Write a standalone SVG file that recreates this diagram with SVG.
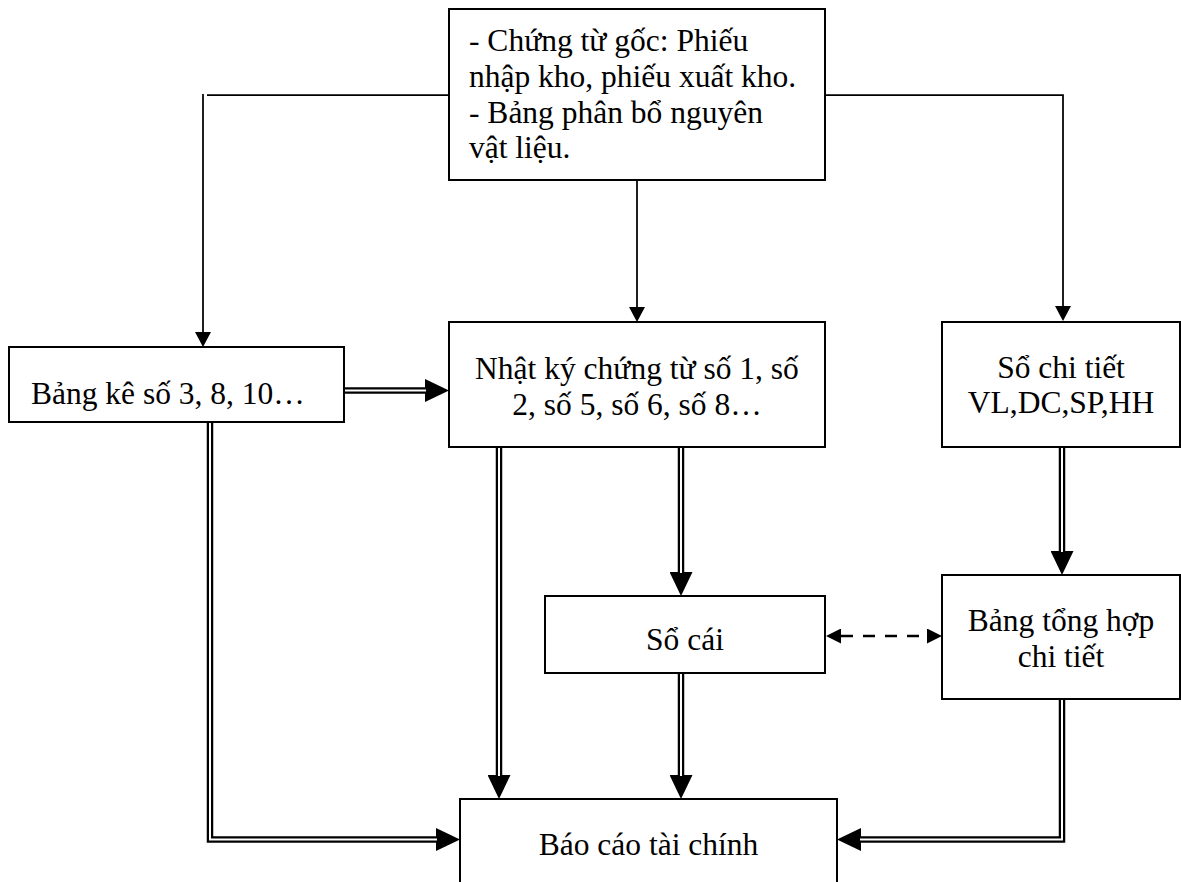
<svg xmlns="http://www.w3.org/2000/svg" width="1181" height="882" viewBox="0 0 1181 882">
  <style>
    .box { fill: #ffffff; stroke: #000000; stroke-width: 2; }
    .txt { font-family: "Liberation Serif", "Times New Roman", serif; font-size: 31.5px; fill: #000000; }
    .mid { text-anchor: middle; }
    .single { fill: none; stroke: #000000; stroke-width: 1.75; }
    .dbl-outer { fill: none; stroke: #000000; stroke-width: 6.5; stroke-linejoin: miter; }
    .dbl-inner { fill: none; stroke: #ffffff; stroke-width: 2; stroke-linejoin: miter; }
    .dash { fill: none; stroke: #000000; stroke-width: 2.5; stroke-dasharray: 12 10; }
  </style>
  <defs>
    <marker id="arrow-small" markerUnits="userSpaceOnUse" markerWidth="15" markerHeight="16" refX="0" refY="8" orient="auto">
      <path d="M0,0 L15,8 L0,16 Z" fill="#000000"/>
    </marker>
    <marker id="arrow-big" markerUnits="userSpaceOnUse" markerWidth="24" markerHeight="23" refX="0" refY="11.5" orient="auto">
      <path d="M0,0 L24,11.5 L0,23 Z" fill="#000000"/>
    </marker>
    <marker id="arrow-dash" markerUnits="userSpaceOnUse" markerWidth="15" markerHeight="15" refX="0" refY="7.5" orient="auto-start-reverse">
      <path d="M0,0 L15,7.5 L0,15 Z" fill="#000000"/>
    </marker>
  </defs>

  <rect width="1181" height="882" fill="#ffffff"/>

  <g id="connectors">
    <!-- single-line flows out of the source documents -->
    <path class="single" d="M207,95 H449"/>
    <path class="single" d="M203,94 V332" marker-end="url(#arrow-small)"/>
    <path class="single" d="M825,95 H1063 V306" marker-end="url(#arrow-small)"/>
    <path class="single" d="M637,180 V307" marker-end="url(#arrow-small)"/>

    <!-- double-line flows -->
    <path class="dbl-outer" d="M344,390.5 H425" marker-end="url(#arrow-big)"/>
    <path class="dbl-inner" d="M345,390.5 H426"/>

    <path class="dbl-outer" d="M499,447 V775" marker-end="url(#arrow-big)"/>
    <path class="dbl-inner" d="M499,448 V776"/>

    <path class="dbl-outer" d="M681,447 V572" marker-end="url(#arrow-big)"/>
    <path class="dbl-inner" d="M681,448 V573"/>

    <path class="dbl-outer" d="M681,673 V775" marker-end="url(#arrow-big)"/>
    <path class="dbl-inner" d="M681,674 V776"/>

    <path class="dbl-outer" d="M1062,447 V551" marker-end="url(#arrow-big)"/>
    <path class="dbl-inner" d="M1062,448 V552"/>

    <path class="dbl-outer" d="M210,422 V839.5 H436" marker-end="url(#arrow-big)"/>
    <path class="dbl-inner" d="M210,423 V839.5 H437"/>

    <path class="dbl-outer" d="M1062,699 V839.5 H861" marker-end="url(#arrow-big)"/>
    <path class="dbl-inner" d="M1062,700 V839.5 H860"/>

    <!-- two-way reconciliation -->
    <path class="dash" d="M841,636 H927" marker-start="url(#arrow-dash)" marker-end="url(#arrow-dash)"/>
  </g>

  <g id="chung-tu-goc">
    <rect class="box" x="449" y="9" width="376" height="171"/>
    <text class="txt" x="469" y="50.5">- Chứng từ gốc: Phiếu</text>
    <text class="txt" x="469" y="86.5">nhập kho, phiếu xuất kho.</text>
    <text class="txt" x="469" y="122.5">- Bảng phân bổ nguyên</text>
    <text class="txt" x="469" y="158">vật liệu.</text>
  </g>

  <g id="bang-ke">
    <rect class="box" x="9" y="347" width="335" height="75"/>
    <text class="txt" x="31" y="404">Bảng kê số 3, 8, 10…</text>
  </g>

  <g id="nhat-ky-chung-tu">
    <rect class="box" x="449" y="322" width="376" height="125"/>
    <text class="txt mid" x="637" y="379">Nhật ký chứng từ số 1, số</text>
    <text class="txt mid" x="637" y="415">2, số 5, số 6, số 8…</text>
  </g>

  <g id="so-chi-tiet">
    <rect class="box" x="942" y="322" width="238" height="125"/>
    <text class="txt mid" x="1061" y="378">Sổ chi tiết</text>
    <text class="txt mid" x="1061" y="413">VL,DC,SP,HH</text>
  </g>

  <g id="so-cai">
    <rect class="box" x="545" y="596" width="280" height="77"/>
    <text class="txt mid" x="685" y="650">Sổ cái</text>
  </g>

  <g id="bang-tong-hop">
    <rect class="box" x="942" y="575" width="238" height="124"/>
    <text class="txt mid" x="1061" y="631">Bảng tổng hợp</text>
    <text class="txt mid" x="1061" y="667">chi tiết</text>
  </g>

  <g id="bao-cao-tai-chinh">
    <rect class="box" x="460" y="799" width="377" height="100"/>
    <text class="txt mid" x="648.5" y="855">Báo cáo tài chính</text>
  </g>
</svg>
